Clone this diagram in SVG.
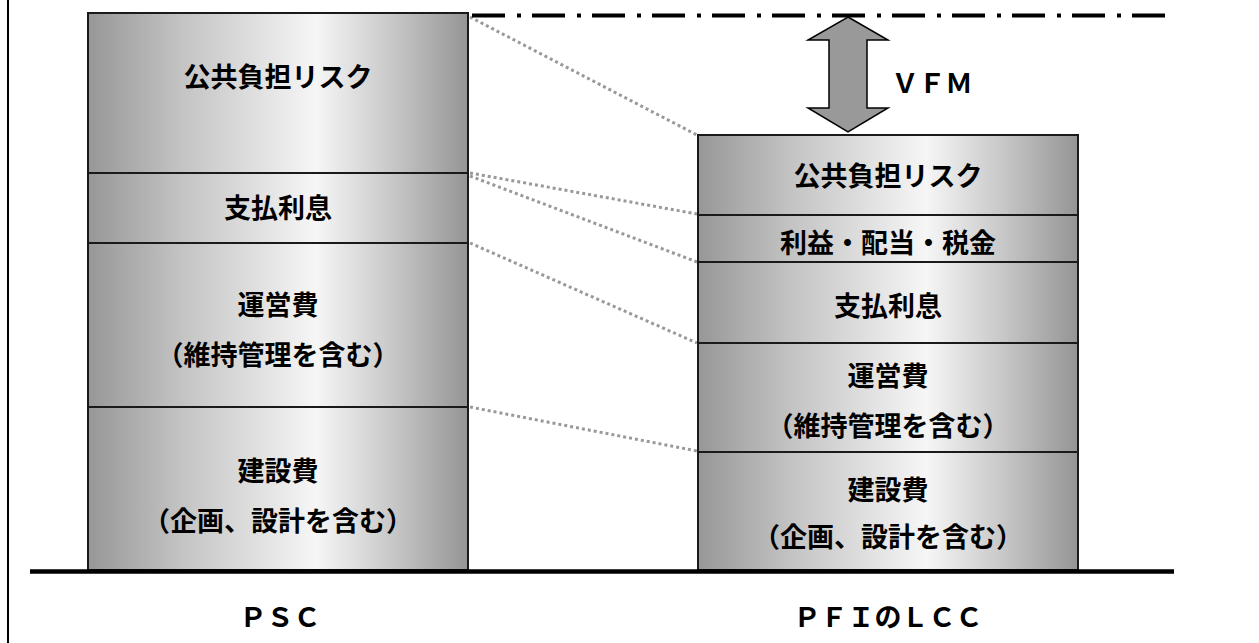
<svg xmlns="http://www.w3.org/2000/svg" width="1259" height="643" viewBox="0 0 1259 643">
<style>
.box{fill:url(#g);stroke:#1a1a1a;stroke-width:2}
.t{font-family:"Noto Sans CJK JP","Noto Sans CJK SC",sans-serif;font-weight:bold;font-size:27px;fill:#000;text-anchor:middle}
.lbl{font-family:"Noto Sans CJK JP","Noto Sans CJK SC",sans-serif;font-weight:bold;font-size:27px;fill:#000;text-anchor:middle}
.c{stroke:#999;stroke-width:3;stroke-dasharray:3 3;fill:none}
</style>
<defs>
<linearGradient id="g" x1="0" y1="0" x2="1" y2="0">
<stop offset="0" stop-color="#979797"/>
<stop offset="0.25" stop-color="#c4c4c4"/>
<stop offset="0.6" stop-color="#f6f6f6"/>
<stop offset="0.8" stop-color="#c8c8c8"/>
<stop offset="1" stop-color="#959595"/>
</linearGradient>
</defs>
<rect width="1259" height="643" fill="#fff"/>
<line x1="8" y1="0" x2="8" y2="643" stroke="#000" stroke-width="2"/>

<g id="connectors">
<line class="c" x1="470" y1="17" x2="697" y2="135"/>
<line class="c" x1="470" y1="173" x2="697" y2="214"/>
<line class="c" x1="470" y1="176" x2="697" y2="262"/>
<line class="c" x1="470" y1="243" x2="697" y2="343"/>
<line class="c" x1="470" y1="407" x2="697" y2="451"/>
</g>

<g id="psc-risk"><rect class="box" x="88" y="13" width="380" height="160"/><text class="t" x="278" y="87">公共負担リスク</text></g>
<g id="psc-interest"><rect class="box" x="88" y="173" width="380" height="70"/><text class="t" x="278" y="218">支払利息</text></g>
<g id="psc-operation"><rect class="box" x="88" y="243" width="380" height="164"/><text class="t" x="278" y="315">運営費</text><text class="t" x="278" y="365">（維持管理を含む）</text></g>
<g id="psc-construction"><rect class="box" x="88" y="407" width="380" height="163"/><text class="t" x="278" y="481">建設費</text><text class="t" x="278" y="531">（企画、設計を含む）</text></g>

<g id="pfi-risk"><rect class="box" x="698" y="135" width="380" height="80"/><text class="t" x="888" y="186">公共負担リスク</text></g>
<g id="pfi-profit"><rect class="box" x="698" y="215" width="380" height="47"/><text class="t" x="888" y="253">利益・配当・税金</text></g>
<g id="pfi-interest"><rect class="box" x="698" y="262" width="380" height="81"/><text class="t" x="888" y="316">支払利息</text></g>
<g id="pfi-operation"><rect class="box" x="698" y="343" width="380" height="109"/><text class="t" x="888" y="386">運営費</text><text class="t" x="888" y="436">（維持管理を含む）</text></g>
<g id="pfi-construction"><rect class="box" x="698" y="452" width="380" height="118"/><text class="t" x="888" y="500">建設費</text><text class="t" x="888" y="547">（企画、設計を含む）</text></g>

<line id="psc-level" x1="472" y1="15.5" x2="1165" y2="15.5" stroke="#000" stroke-width="4" stroke-dasharray="33 12 4 11"/>

<g id="vfm-arrow">
<polygon points="848,17 888,40 867,40 867,108 888,108 848,132 808,108 829,108 829,40 808,40" fill="#999" stroke="#000" stroke-width="1.5" stroke-linejoin="miter"/>
<text class="lbl" x="932" y="93">ＶＦＭ</text>
</g>

<line id="baseline" x1="30" y1="571.5" x2="1174" y2="571.5" stroke="#000" stroke-width="4.5"/>

<text class="lbl" x="280" y="627">ＰＳＣ</text>
<text class="lbl" x="888" y="627">ＰＦＩのＬＣＣ</text>
</svg>
